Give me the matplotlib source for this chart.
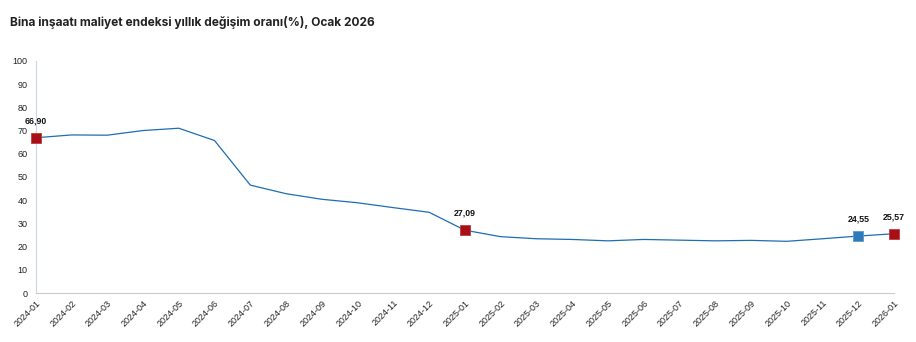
import matplotlib.pyplot as plt

# aylar ve yillik degisim (%)
months = ['2024-01', '2024-02', '2024-03', '2024-04', '2024-05', '2024-06',
          '2024-07', '2024-08', '2024-09', '2024-10', '2024-11', '2024-12',
          '2025-01', '2025-02', '2025-03', '2025-04', '2025-05', '2025-06',
          '2025-07', '2025-08', '2025-09', '2025-10', '2025-11', '2025-12',
          '2026-01']
values = [66.90, 68.1, 68.0, 70.0, 71.0, 65.7,
          46.5, 42.8, 40.4, 38.9, 36.8, 34.8,
          27.09, 24.3, 23.4, 23.1, 22.5, 23.1,
          22.8, 22.5, 22.7, 22.3, 23.4, 24.55,
          25.57]

# isaretli noktalar
red_idx = [0, 12, 24]
blue_idx = [23]

plt.rcParams['font.family'] = ['Liberation Sans', 'DejaVu Sans']

fig = plt.figure(figsize=(9.16, 3.42), dpi=100)
ax = fig.add_axes([0.039, 0.143, 0.937, 0.679])

x = list(range(len(months)))
ax.plot(x, values, color='#1f6db3', linewidth=0.9, zorder=2)

for i in red_idx:
    ax.plot(i, values[i], marker='s', markersize=7, color='#a50f15',
            markeredgecolor='#c0393f', markeredgewidth=0.6, clip_on=False, zorder=3)
for i in blue_idx:
    ax.plot(i, values[i], marker='s', markersize=7, color='#2f7ab9',
            markeredgecolor='#5a9ad0', markeredgewidth=0.6, clip_on=False, zorder=3)

for i in red_idx + blue_idx:
    lbl = f'{values[i]:.2f}'.replace('.', ',')
    ax.annotate(lbl, (i, values[i]), xytext=(0, 9), textcoords='offset points',
                ha='center', va='bottom', fontsize=6.3, fontweight='bold', color='#111111')

ax.set_xlim(0, len(months) - 1)
ax.set_ylim(0, 100)
ax.set_yticks(range(0, 101, 10))
ax.set_xticks(x)
ax.set_xticklabels(months, rotation=45, ha='right', rotation_mode='anchor')
ax.tick_params(axis='both', labelsize=6.5, length=0, colors='#222222')
ax.tick_params(axis='x', pad=4)
ax.tick_params(axis='y', pad=6)

for s in ['top', 'right']:
    ax.spines[s].set_visible(False)
ax.spines['left'].set_color('#ccd6e6')
ax.spines['bottom'].set_color('#cccccc')

fig.text(0.011, 0.925, 'Bina inşaatı maliyet endeksi yıllık değişim oranı(%), Ocak 2026',
         fontsize=8.6, fontweight='bold', color='#222222', family=['Inter', 'DejaVu Sans'])

fig.savefig('out.png', dpi=100)
